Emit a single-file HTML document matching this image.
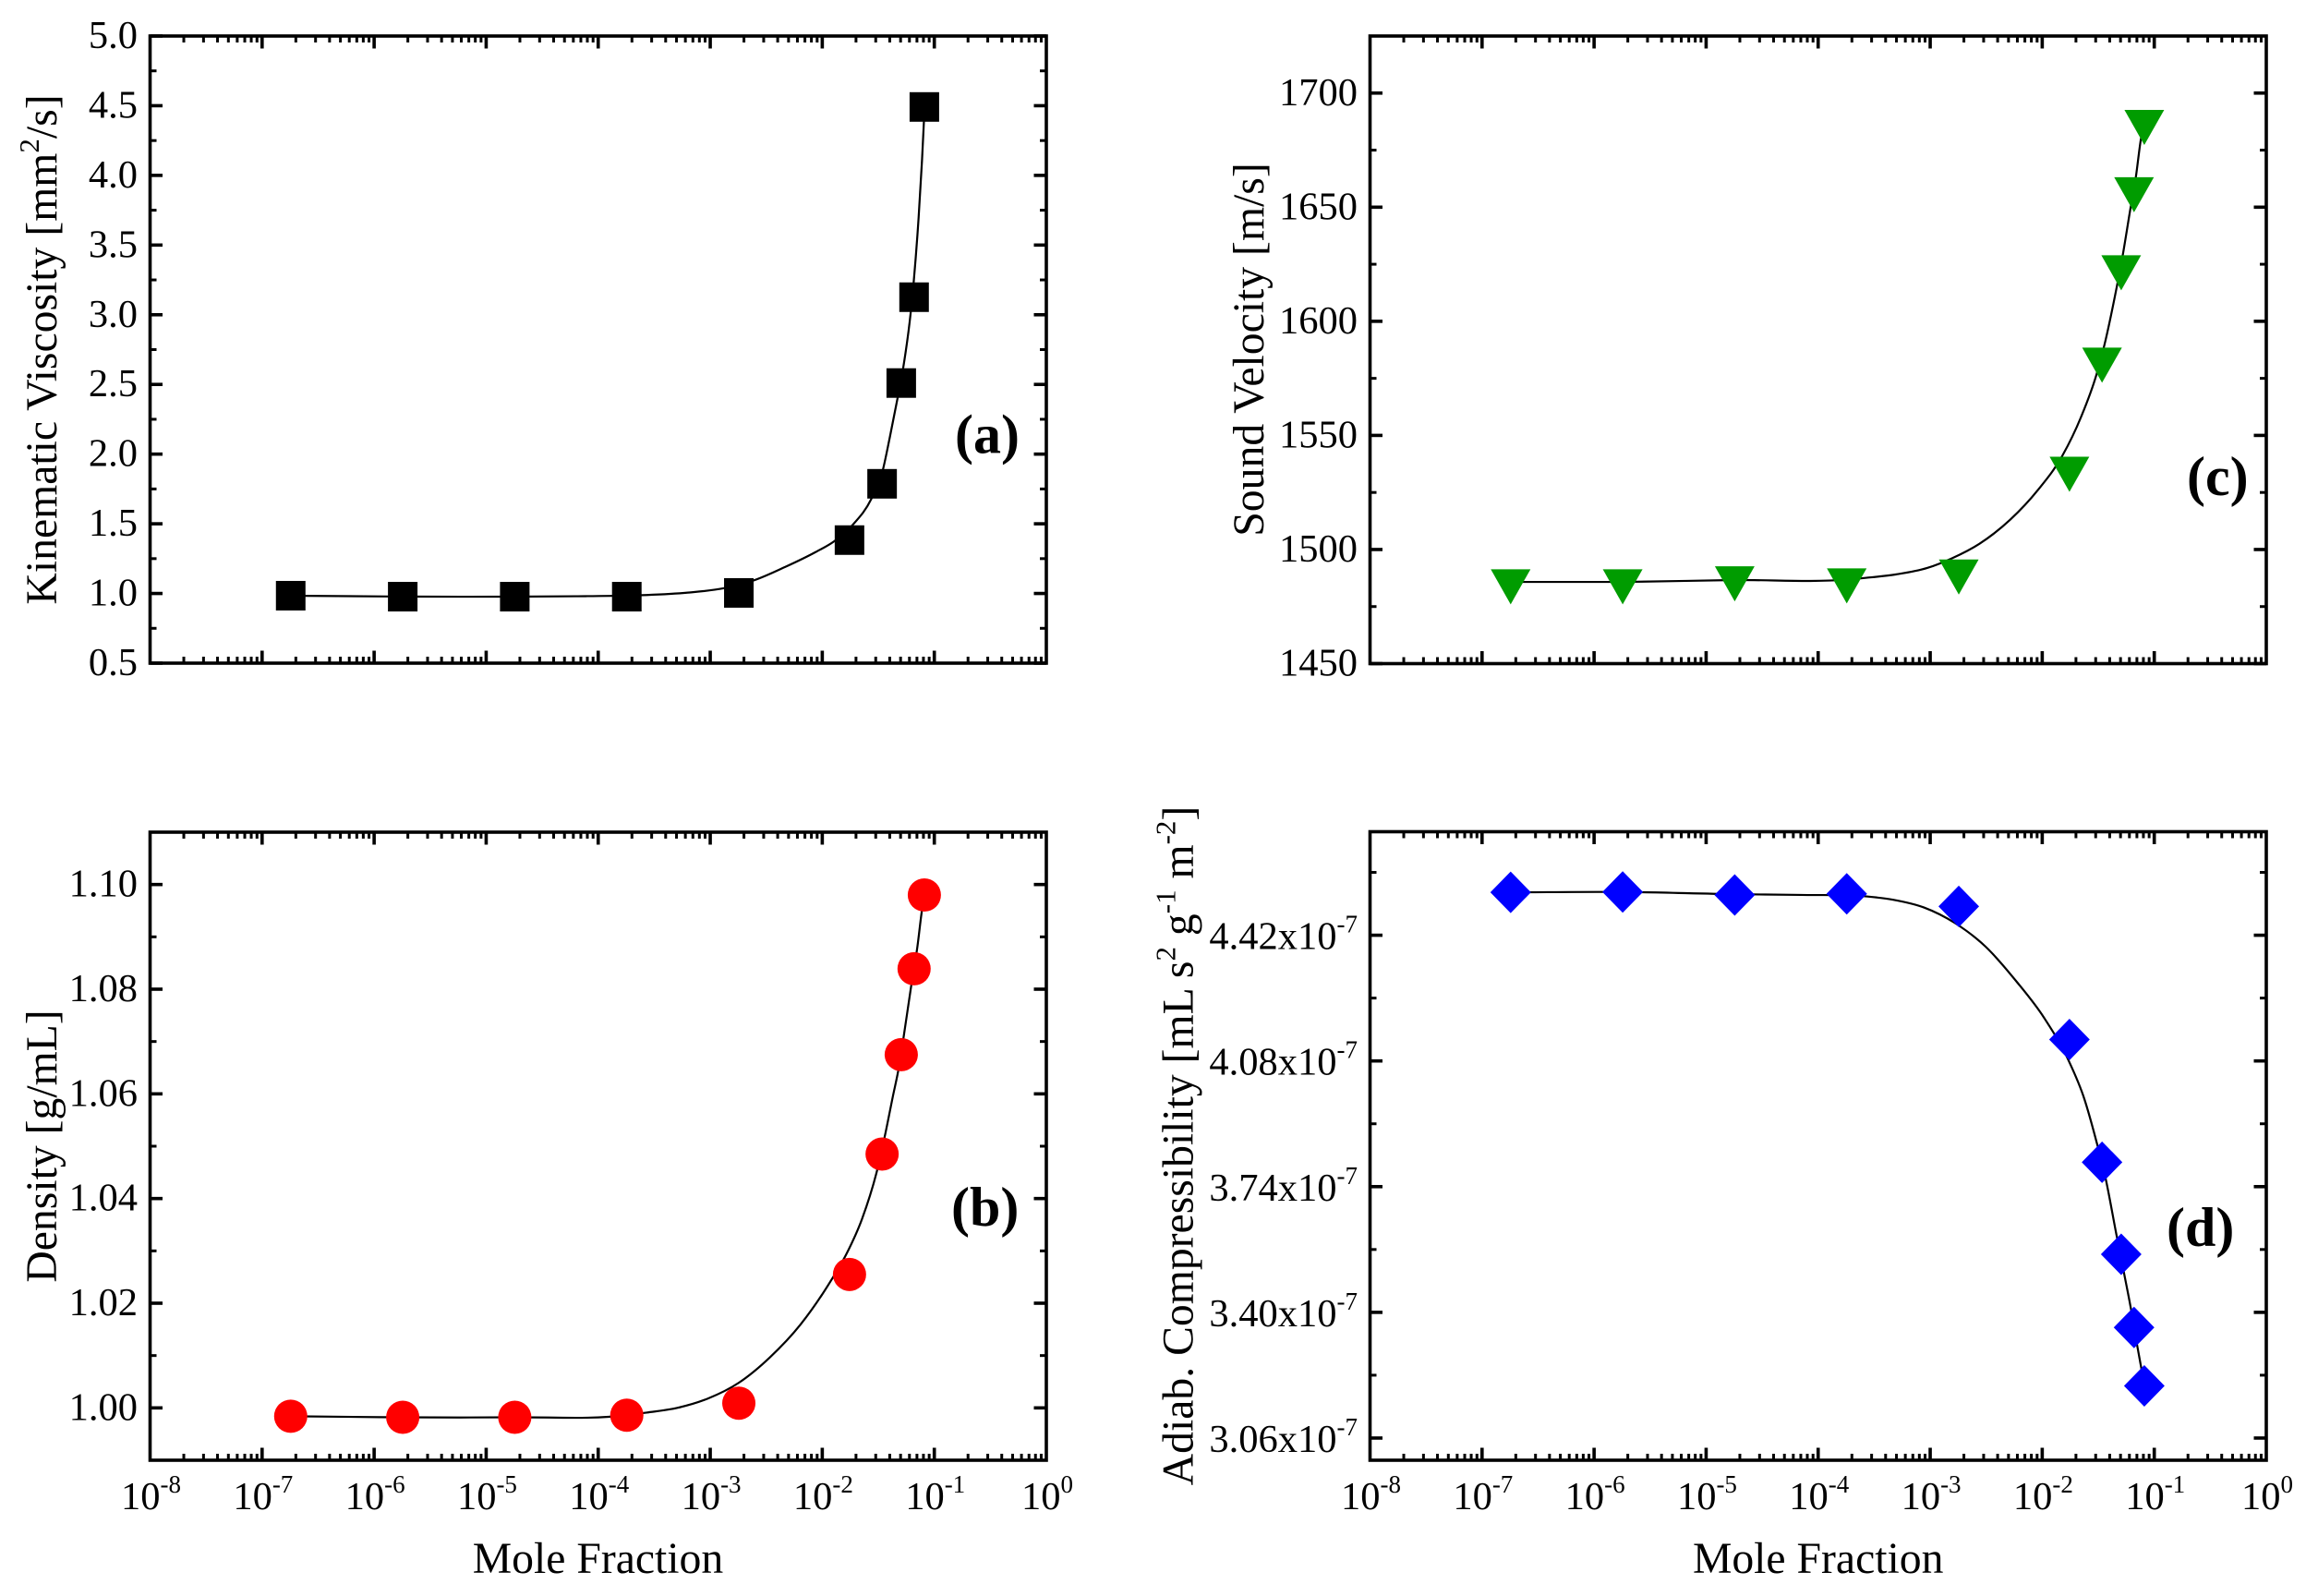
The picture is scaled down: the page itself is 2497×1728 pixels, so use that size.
<!DOCTYPE html>
<html lang="en">
<head>
<meta charset="utf-8">
<title>Viscosity, density, sound velocity and compressibility vs mole fraction</title>
<style>
  html, body { margin: 0; padding: 0; background: #fff; }
  body { width: 2497px; height: 1728px; overflow: hidden; }
  svg { display: block; }
  text { font-family: "Liberation Serif", "Times New Roman", serif; fill: #000; }
  .title { font-size: 47.7px; }
  .sup { font-size: 31px; }
  .tick { font-size: 42.5px; }
  .exp { font-size: 27px; }
  .panel { font-size: 60px; font-weight: bold; }
</style>
</head>
<body>
<svg id="figure" xmlns="http://www.w3.org/2000/svg" width="2497" height="1728" viewBox="0 0 2497 1728">
  <rect x="0" y="0" width="2497" height="1728" fill="#fff"/>

  <text class="title" transform="translate(61 378.5) rotate(-90)" text-anchor="middle">Kinematic Viscosity [mm<tspan class="sup" dy="-19">2</tspan><tspan dy="19">/s]</tspan></text>
  <text class="title" transform="translate(61 1241) rotate(-90)" text-anchor="middle">Density [g/mL]</text>
  <text class="title" transform="translate(1368 378.5) rotate(-90)" text-anchor="middle">Sound Velocity [m/s]</text>
  <text class="title" transform="translate(1291.5 1240.5) rotate(-90)" text-anchor="middle">Adiab. Compressibility [mL s<tspan class="sup" dy="-19">2</tspan><tspan dy="19"> g</tspan><tspan class="sup" dy="-19">-1</tspan><tspan dy="19"> m</tspan><tspan class="sup" dy="-19">-2</tspan><tspan dy="19">]</tspan></text>

  <text class="title" x="647.5" y="1703" text-anchor="middle">Mole Fraction</text>
  <text class="title" x="1968.7" y="1703" text-anchor="middle">Mole Fraction</text>

  <g id="plots"></g>

  <text class="panel" x="1034" y="490.7">(a)</text>
  <text class="panel" x="1030" y="1327">(b)</text>
  <text class="panel" x="2368" y="536">(c)</text>
  <text class="panel" x="2346" y="1349">(d)</text>
</svg>

<script>
// ---- Shared x data
const moleFractions = [1.8e-7, 1.8e-6, 1.8e-5, 1.8e-4, 1.8e-3, 1.75e-2, 3.42e-2, 5.07e-2, 6.6e-2, 8.15e-2];
const xDecades = [-8, -7, -6, -5, -4, -3, -2, -1, 0];

// ---- Panel (a) kinematic viscosity
const viscosityValues = [0.984, 0.977, 0.977, 0.977, 1.004, 1.383, 1.787, 2.510, 3.126, 4.491];
const viscosityFitLogX = [-6.745, -5.745, -4.747, -4.200, -3.742, -3.569, -3.200, -2.882, -2.607, -2.332, -2.060, -1.893, -1.728, -1.563, -1.466, -1.398, -1.329, -1.280, -1.211, -1.184, -1.140, -1.110, -1.093, -1.087];
const viscosityFitValues = [0.984, 0.978, 0.977, 0.980, 0.985, 0.989, 1.006, 1.037, 1.095, 1.190, 1.297, 1.375, 1.493, 1.677, 1.865, 2.117, 2.397, 2.607, 3.013, 3.235, 3.697, 4.103, 4.382, 4.491];
const viscosityMajorTicks = [0.5, 1.0, 1.5, 2.0, 2.5, 3.0, 3.5, 4.0, 4.5, 5.0];
const viscosityMinorTicks = [0.75, 1.25, 1.75, 2.25, 2.75, 3.25, 3.75, 4.25, 4.75];

// ---- Panel (b) density
const densityValues = [0.9984, 0.9982, 0.9982, 0.9986, 1.0009, 1.0255, 1.0485, 1.0675, 1.0839, 1.0980];
const densityFitLogX = [-6.745, -5.745, -4.747, -3.742, -3.569, -3.294, -3.019, -2.745, -2.470, -2.195, -1.920, -1.782, -1.645, -1.508, -1.439, -1.370, -1.316, -1.275, -1.205, -1.151, -1.110, -1.087];
const densityFitValues = [0.9984, 0.9982, 0.9982, 0.9986, 0.9991, 1.0000, 1.0018, 1.0048, 1.0096, 1.0159, 1.0244, 1.0295, 1.0361, 1.0456, 1.0522, 1.0595, 1.0651, 1.0707, 1.0808, 1.0881, 1.0951, 1.0980];
const densityMajorTicks = [1.00, 1.02, 1.04, 1.06, 1.08, 1.10];
const densityMinorTicks = [0.99, 1.01, 1.03, 1.05, 1.07, 1.09, 1.11];

// ---- Panel (c) sound velocity
const velocityValues = [1486.2, 1486.2, 1487.5, 1486.6, 1490.5, 1535.5, 1583.3, 1623.8, 1658.0, 1687.5];
const velocityFitLogX = [-6.746, -5.745, -4.748, -3.750, -3.569, -3.303, -3.027, -2.808, -2.561, -2.285, -2.038, -1.819, -1.654, -1.516, -1.448, -1.337, -1.283, -1.213, -1.164, -1.120, -1.089];
const velocityFitValues = [1485.8, 1485.8, 1486.6, 1486.8, 1487.6, 1489.1, 1491.9, 1496.1, 1502.5, 1513.1, 1526.1, 1541.2, 1558.0, 1576.6, 1589.0, 1614.5, 1628.5, 1649.3, 1663.3, 1679.6, 1687.4];
const velocityMajorTicks = [1450, 1500, 1550, 1600, 1650, 1700];
const velocityMinorTicks = [1475, 1525, 1575, 1625, 1675, 1725];

// ---- Panel (d) adiabatic compressibility
const compressibilityValues = [4.536, 4.537, 4.529, 4.532, 4.498, 4.138, 3.806, 3.557, 3.359, 3.201];
const compressibilityFitLogX = [-6.745, -5.745, -4.748, -4.154, -3.569, -3.330, -3.055, -2.779, -2.505, -2.230, -1.984, -1.763, -1.626, -1.516, -1.434, -1.337, -1.269, -1.209, -1.151, -1.118, -1.087];
const compressibilityFitValues = [4.536, 4.537, 4.531, 4.529, 4.525, 4.516, 4.495, 4.453, 4.389, 4.295, 4.197, 4.080, 3.979, 3.862, 3.762, 3.609, 3.505, 3.411, 3.308, 3.253, 3.201];
const compressibilityMajorTicks = [3.06, 3.40, 3.74, 4.08, 4.42];
const compressibilityMinorTicks = [3.23, 3.57, 3.91, 4.25, 4.59];

const SVG_NS = 'http://www.w3.org/2000/svg';
const plots = document.getElementById('plots');

function make(tag, parent, attrs) {
  const node = document.createElementNS(SVG_NS, tag);
  for (const key in attrs) node.setAttribute(key, attrs[key]);
  parent.appendChild(node);
  return node;
}

// C1 cubic path through pixel points, with parabolic end-weighted slopes
function smoothPath(px, py) {
  const n = px.length;
  const d = [];
  const h = [];
  for (let i = 0; i < n - 1; i++) {
    h.push(px[i + 1] - px[i]);
    d.push((py[i + 1] - py[i]) / h[i]);
  }
  const m = [d[0]];
  for (let i = 1; i < n - 1; i++) {
    m.push((d[i - 1] * h[i] + d[i] * h[i - 1]) / (h[i] + h[i - 1]));
  }
  m.push(d[n - 2]);
  let path = 'M' + px[0].toFixed(2) + ' ' + py[0].toFixed(2);
  for (let i = 0; i < n - 1; i++) {
    const t = h[i] / 3;
    path += 'C' + (px[i] + t).toFixed(2) + ' ' + (py[i] + m[i] * t).toFixed(2) + ' ' +
      (px[i + 1] - t).toFixed(2) + ' ' + (py[i + 1] - m[i + 1] * t).toFixed(2) + ' ' +
      px[i + 1].toFixed(2) + ' ' + py[i + 1].toFixed(2);
  }
  return path;
}

function drawPanel(cfg) {
  const g = make('g', plots, {});
  
  

  const xScale = function (logValue) {
    return cfg.left + (logValue + 8) / 8 * (cfg.right - cfg.left);
  };
  const yScale = function (value) {
    return cfg.bottom - (value - cfg.yMin) / (cfg.yMax - cfg.yMin) * (cfg.bottom - cfg.top);
  };

  // X ticks on top and bottom
  for (let k = 0; k < xDecades.length; k++) {
    const decade = xDecades[k];
    const px = xScale(decade);
    if (decade > -8 && decade < 0) {
      const bottomMajor = make('line', g, { x1: px, x2: px, y1: cfg.bottom, y2: cfg.bottom - 13.5, stroke: '#000', 'stroke-width': 3.6 });
      
      
      const topMajor = make('line', g, { x1: px, x2: px, y1: cfg.top, y2: cfg.top + 13.5, stroke: '#000', 'stroke-width': 3.6 });
      
      
    }
    if (decade < 0) {
      for (let m = 2; m <= 9; m++) {
        const mx = xScale(decade + Math.log10(m));
        const bottomMinor = make('line', g, { x1: mx, x2: mx, y1: cfg.bottom, y2: cfg.bottom - 7, stroke: '#000', 'stroke-width': 3 });
        
        
        const topMinor = make('line', g, { x1: mx, x2: mx, y1: cfg.top, y2: cfg.top + 7, stroke: '#000', 'stroke-width': 3 });
        
        
      }
    }
    if (cfg.xLabels) {
      const label = make('text', g, { class: 'tick', x: px + 1, y: 1634, 'text-anchor': 'middle' });
      
      
      label.appendChild(document.createTextNode('10'));
      const sup = make('tspan', label, { class: 'exp', dy: -18 });
      sup.textContent = String(decade);
    }
  }

  // Y ticks left and right
  cfg.majorTicks.forEach(function (value) {
    const py = yScale(value);
    const leftTick = make('line', g, { x1: cfg.left, x2: cfg.left + 13.5, y1: py, y2: py, stroke: '#000', 'stroke-width': 3.6 });
    
    
    const rightTick = make('line', g, { x1: cfg.right, x2: cfg.right - 13.5, y1: py, y2: py, stroke: '#000', 'stroke-width': 3.6 });
    
    
    const label = make('text', g, { class: 'tick', x: cfg.left - 13.5, y: py + cfg.labelDrop, 'text-anchor': 'end' });
    
    
    label.appendChild(document.createTextNode(value.toFixed(cfg.decimals) + (cfg.scaleSuffix ? 'x10' : '')));
    if (cfg.scaleSuffix) {
      const sup = make('tspan', label, { class: 'exp', dy: -18 });
      sup.textContent = cfg.scaleSuffix;
    }
  });
  cfg.minorTicks.forEach(function (value) {
    const py = yScale(value);
    const leftTick = make('line', g, { x1: cfg.left, x2: cfg.left + 7, y1: py, y2: py, stroke: '#000', 'stroke-width': 3 });
    
    
    const rightTick = make('line', g, { x1: cfg.right, x2: cfg.right - 7, y1: py, y2: py, stroke: '#000', 'stroke-width': 3 });
    
    
  });

  // Fit curve
  const curve = make('path', g, {
    d: smoothPath(cfg.fitLogX.map(xScale), cfg.fitValues.map(yScale)),
    fill: 'none', stroke: '#000', 'stroke-width': 2.2, 'stroke-linejoin': 'round'
  });
  
  

  // Markers
  moleFractions.forEach(function (fraction, i) {
    const cx = xScale(Math.log10(fraction));
    const cy = yScale(cfg.values[i]);
    let mark;
    if (cfg.shape === 'square') {
      mark = make('rect', g, { x: cx - 16, y: cy - 16, width: 32, height: 32, fill: cfg.color });
    } else if (cfg.shape === 'circle') {
      mark = make('circle', g, { cx: cx, cy: cy, r: 18, fill: cfg.color });
    } else if (cfg.shape === 'triangle') {
      mark = make('polygon', g, { points: (cx - 21.5) + ',' + (cy - 12.7) + ' ' + (cx + 21.5) + ',' + (cy - 12.7) + ' ' + cx + ',' + (cy + 25.3), fill: cfg.color });
    } else {
      mark = make('polygon', g, { points: (cx - 22) + ',' + cy + ' ' + cx + ',' + (cy - 22.5) + ' ' + (cx + 22) + ',' + cy + ' ' + cx + ',' + (cy + 22.5), fill: cfg.color });
    }
    
    
  });

  // Plot frame
  const frame = make('rect', g, { x: cfg.left, y: cfg.top, width: cfg.right - cfg.left, height: cfg.bottom - cfg.top, fill: 'none', stroke: '#000', 'stroke-width': 3.6 });
  
  
}

drawPanel({
  name: 'viscosity', left: 162.5, right: 1133, top: 39, bottom: 718, yMin: 0.5, yMax: 5.0,
  majorTicks: viscosityMajorTicks, minorTicks: viscosityMinorTicks, decimals: 1, labelDrop: 13,
  values: viscosityValues, fitLogX: viscosityFitLogX, fitValues: viscosityFitValues,
  shape: 'square', color: '#000000', xLabels: false
});
drawPanel({
  name: 'density', left: 162.5, right: 1133, top: 901, bottom: 1581, yMin: 0.99, yMax: 1.11,
  majorTicks: densityMajorTicks, minorTicks: densityMinorTicks, decimals: 2, labelDrop: 13,
  values: densityValues, fitLogX: densityFitLogX, fitValues: densityFitValues,
  shape: 'circle', color: '#ff0000', xLabels: true
});
drawPanel({
  name: 'sound-velocity', left: 1483.5, right: 2454, top: 39, bottom: 718.5, yMin: 1450, yMax: 1725,
  majorTicks: velocityMajorTicks, minorTicks: velocityMinorTicks, decimals: 0, labelDrop: 13,
  values: velocityValues, fitLogX: velocityFitLogX, fitValues: velocityFitValues,
  shape: 'triangle', color: '#009c00', xLabels: false
});
drawPanel({
  name: 'compressibility', left: 1483.5, right: 2454, top: 900.5, bottom: 1581, yMin: 3.0, yMax: 4.7,
  majorTicks: compressibilityMajorTicks, minorTicks: compressibilityMinorTicks, decimals: 2, labelDrop: 15, scaleSuffix: '-7',
  values: compressibilityValues, fitLogX: compressibilityFitLogX, fitValues: compressibilityFitValues,
  shape: 'diamond', color: '#0000ff', xLabels: true
});
</script>
</body>
</html>
